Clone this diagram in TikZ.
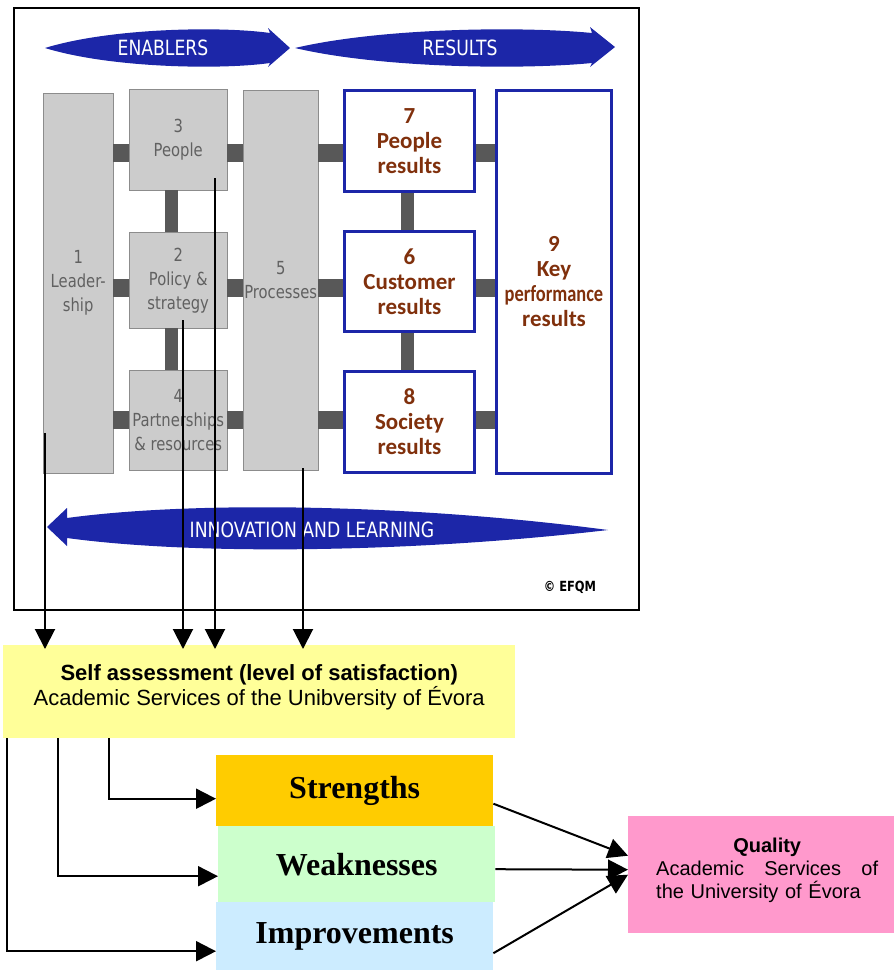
\documentclass[tikz,border=0pt]{standalone}
\usepackage{fontspec}
\setmainfont{Liberation Sans}
\newfontfamily\efqmfont[FakeStretch=0.82]{DejaVu Sans}
\newfontfamily\resfont{Carlito}
\newfontfamily\swfont{Liberation Serif}
\usetikzlibrary{shapes,calc,arrows.meta}
\definecolor{efqmblue}{RGB}{28,38,168}
\definecolor{bargray}{RGB}{88,88,88}
\definecolor{resbrown}{RGB}{128,48,12}
\definecolor{selfcol}{RGB}{255,255,153}
\definecolor{strcol}{RGB}{255,204,0}
\definecolor{weakcol}{RGB}{204,255,204}
\definecolor{imprcol}{RGB}{204,236,255}
\definecolor{qualcol}{RGB}{255,153,204}
\tikzset{
  x=1pt, y=-1pt,
  box/.style    = {rectangle, inner sep=0pt, align=center, anchor=north west},
  enab_n/.style = {box, draw=black!45, fill=black!20, text=black!62, font=\efqmfont\fontsize{18}{24}\selectfont},
  res_n/.style  = {box, draw=efqmblue, line width=3pt, fill=white, text=resbrown, font=\resfont\bfseries\fontsize{23}{25}\selectfont},
  bar_h/.style  = {draw=bargray, line width=18pt},
  bar_v/.style  = {draw=bargray, line width=13pt},
  band/.style   = {fill=efqmblue},
  band_t/.style = {text=white, inner sep=0pt, font=\efqmfont\fontsize{21}{24}\selectfont},
  sw_n/.style   = {box, font=\swfont\bfseries\fontsize{32}{36}\selectfont},
  conn/.style   = {draw=black, line width=2pt, -{Triangle[length=20pt,width=20pt]}}
}
\begin{document}
\begin{tikzpicture}
\useasboundingbox (0,0) rectangle (894,970);
% EFQM model
\fill[band] (45,48) .. controls (110,28) and (220,26) .. (270,33) -- (268,28) -- (290,48)
  -- (268,67) -- (270,63) .. controls (220,70) and (110,68) .. (45,48) -- cycle;
\fill[band] (295,48) .. controls (380,28) and (520,26) .. (592,33) -- (590,27) -- (615,47)
  -- (590,67) -- (592,63) .. controls (520,70) and (380,68) .. (295,48) -- cycle;
\fill[band] (608,530) .. controls (420,505) and (200,500) .. (67,518) -- (67,508) -- (47,527)
  -- (67,546) -- (67,538) .. controls (200,556) and (420,552) .. (608,530) -- cycle;
\node[band_t] (enab) at (163,48) {ENABLERS};
\node[band_t] (resl) at (460,48) {RESULTS};
\node[band_t] (innov) at (312,530) {INNOVATION AND LEARNING};

\node[enab_n, minimum width=70pt, minimum height=380pt] (lead) at (43,93) {1\\Leader-\\ship};
\node[enab_n, minimum width=98pt, minimum height=101pt] (ppl) at (129,89) {3\\People};
\node[enab_n, minimum width=98pt, minimum height=96pt] (pol) at (129,232) {2\\Policy \&\\strategy};
\node[enab_n, minimum width=98pt, minimum height=100pt] (part) at (129,370) {4\\Partnerships\\\& resources};
\node[enab_n, minimum width=75pt, minimum height=380pt] (proc) at (243,90) {5\\Processes};

\node[res_n, minimum width=130pt, minimum height=101pt] (r7) at (343,89) {7\\People\\results};
\node[res_n, minimum width=130pt, minimum height=100pt] (r6) at (343,230) {6\\Customer\\results};
\node[res_n, minimum width=130pt, minimum height=101pt] (r8) at (343,370) {8\\Society\\results};
\node[res_n, minimum width=115pt, minimum height=383pt] (kpr) at (495,89) {9\\Key\\\scalebox{0.8}[1]{performance}\\results};

\foreach \m/\r/\dy in {ppl/r7/13, pol/r6/8, part/r8/0} {
  \coordinate (row) at ([yshift=-\dy pt]\m.west);
  \draw[bar_h] (row -| lead.east) -- (row -| \m.west);
  \draw[bar_h] (row -| \m.east) -- (row -| proc.west);
  \draw[bar_h] (row -| proc.east) -- (row -| \r.west);
  \draw[bar_h] (row -| \r.east) -- (row -| kpr.west);
}
\draw[bar_v] ([xshift=-7pt]ppl.south) -- ([xshift=-7pt]pol.north);
\draw[bar_v] ([xshift=-7pt]pol.south) -- ([xshift=-7pt]part.north);
\draw[bar_v] ([xshift=-2pt]r7.south) -- ([xshift=-2pt]r6.north);
\draw[bar_v] ([xshift=-2pt]r6.south) -- ([xshift=-2pt]r8.north);

\node[font=\efqmfont\bfseries\fontsize{14}{16}\selectfont] (copy) at (570,587) {© EFQM};
\draw[line width=2pt] (14,8) rectangle (639,610);

% self assessment
\node[box, fill=selfcol, minimum width=512pt, minimum height=93pt, font=\fontsize{22}{25}\selectfont] (self) at (3,645)
  {\textbf{Self assessment (level of satisfaction)}\\Academic Services of the Unibversity of Évora\\[-12pt]\mbox{}};

\coordinate (s_lead) at (45,433);
\coordinate (s_pol) at (183,320);
\coordinate (s_ppl) at (215,178);
\coordinate (s_proc) at (303,468);
\draw[conn] (s_lead) -- ([yshift=-4pt]s_lead |- self.north);
\draw[conn] (s_pol) -- ([yshift=-4pt]s_pol |- self.north);
\draw[conn] (s_ppl) -- ([yshift=-4pt]s_ppl |- self.north);
\draw[conn] (s_proc) -- ([yshift=-4pt]s_proc |- self.north);

\node[sw_n, fill=strcol, minimum width=277pt, minimum height=71pt] (str) at (216,755) {Strengths};
\node[sw_n, fill=weakcol, minimum width=277pt, minimum height=76pt] (weak) at (218,826) {Weaknesses};
\node[sw_n, fill=imprcol, minimum width=277pt, minimum height=68pt] (impr) at (216,902) {Improvements};
\node[box, fill=qualcol, minimum width=266pt, minimum height=117pt, text width=234pt, align=left,
  font=\fontsize{20}{23}\selectfont] (qual) at (628,816)
  {\hspace*{12pt}\hfill\textbf{Quality}\hfill\mbox{}\\\hspace*{12pt}Academic\hfill Services\hfill of\\\hspace*{12pt}the University of Évora\\[-10pt]\mbox{}};

\draw[conn] ([xshift=4pt]self.south west) |- ([yshift=-15pt]impr.west);
\draw[conn] ([xshift=55pt]self.south west) |- ([yshift=-12pt]weak.west);
\draw[conn] ([xshift=106pt]self.south west) |- ([yshift=-8pt]str.west);

\draw[conn] ([yshift=-13pt]str.east) -- ([yshift=19pt]qual.west);
\draw[conn] ([yshift=-5pt]weak.east) -- ([yshift=5pt]qual.west);
\draw[conn] ([yshift=-17pt]impr.east) -- (qual.west);
\end{tikzpicture}
\end{document}
